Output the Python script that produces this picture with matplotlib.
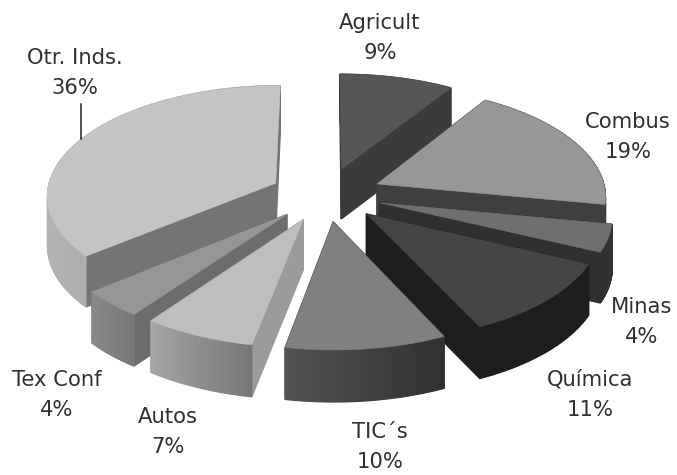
import numpy as np
import matplotlib
matplotlib.use("Agg")
import matplotlib.pyplot as plt
from matplotlib.patches import Polygon

categories = ["Agricult", "Combus", "Minas", "Química", "TIC´s", "Autos", "Tex Conf", "Otr. Inds."]
values = [9, 19, 4, 11, 10, 7, 4, 36]
top_colors = ["#565656", "#979797", "#6f6f6f", "#454545", "#808080", "#bebebe", "#969696", "#c4c4c4"]
start_cut = ["#3b3b3b", "#3f3f3f", "#303030", "#1e1e1e", "#3a3a3a", "#9a9a9a", "#6c6c6c", "#747474"]
end_cut = ["#3b3b3b", "#3f3f3f", "#303030", "#1e1e1e", "#3a3a3a", "#9a9a9a", "#6c6c6c", "#747474"]
rim_a = ["#3b3b3b", "#3f3f3f", "#333333", "#1e1e1e", "#303030", "#777777", "#777777", "#8a8a8a"]
rim_b = ["#3b3b3b", "#3f3f3f", "#303030", "#1e1e1e", "#525252", "#a5a5a5", "#8a8a8a", "#b4b4b4"]
label_xy = [(380, 38), (628, 137), (642, 322), (590, 395), (380, 447), (168, 432), (57, 395), (75, 73)]

CX, CY, RX, RY, K, EXPL, DEPTH = 326.0, 194.5, 229.0, 109.5, 0.10, 0.245, 50.0


def project(u, v, z=0.0):
    s = 1.0 / (1.0 + K * v)
    return CX + RX * u * s, CY - RY * v * s + z * DEPTH * s ** 0.3


fig = plt.figure(figsize=(6.77, 4.75), dpi=100)
ax = fig.add_axes([0, 0, 1, 1])
ax.set_xlim(0, 677)
ax.set_ylim(475, 0)
ax.axis("off")


def draw_quad(points_uv, color, zorder):
    a, b = points_uv
    poly = [project(*a), project(*b), project(*b, 1), project(*a, 1)]
    ax.add_patch(Polygon(poly, closed=True, fc=color, ec=color, lw=0.9, zorder=zorder))


fractions = np.cumsum([0] + values) / np.sum(values) * 2 * np.pi
paint_order = [0, 7, 1, 2, 3, 6, 5, 4]
for rank, i in enumerate(paint_order):
    t0, t1 = fractions[i], fractions[i + 1]
    mid = (t0 + t1) / 2
    au, av = EXPL * np.sin(mid), EXPL * np.cos(mid)
    th = np.linspace(t0, t1, 60)
    ou, ov = au + np.sin(th), av + np.cos(th)
    base = 10 + rank * 10
    faces = [(((au, av), (ou[0], ov[0])), start_cut[i]),
             (((au, av), (ou[-1], ov[-1])), end_cut[i])]
    ca = np.array(matplotlib.colors.to_rgb(rim_a[i]))
    cb = np.array(matplotlib.colors.to_rgb(rim_b[i]))
    xs = [project(a, b)[0] for a, b in zip(ou, ov)]
    xmin, xmax = min(xs), max(xs)
    for j in range(len(th) - 1):
        frac = ((xs[j] + xs[j + 1]) / 2 - xmin) / max(xmax - xmin, 1)
        faces.append((((ou[j], ov[j]), (ou[j + 1], ov[j + 1])), tuple(ca + (cb - ca) * (1 - frac))))
    faces.sort(key=lambda f: -(f[0][0][1] + f[0][1][1]))
    for seg, color in faces:
        draw_quad(seg, color, base)
    top = [project(au, av)] + [project(a, b) for a, b in zip(ou, ov)]
    ax.add_patch(Polygon(top, closed=True, fc=top_colors[i], ec=top_colors[i], lw=0.4, zorder=base + 1))

for name, val, (lx, ly) in zip(categories, values, label_xy):
    ax.text(lx, ly, f"{name}\n{val}%", ha="center", va="center", fontsize=15.2,
            family="DejaVu Sans", color="#303030", linespacing=1.66, zorder=200)

ax.plot([81, 81], [104, 139], color="#202020", lw=1.1, zorder=200)
fig.savefig("out.png", dpi=100)
